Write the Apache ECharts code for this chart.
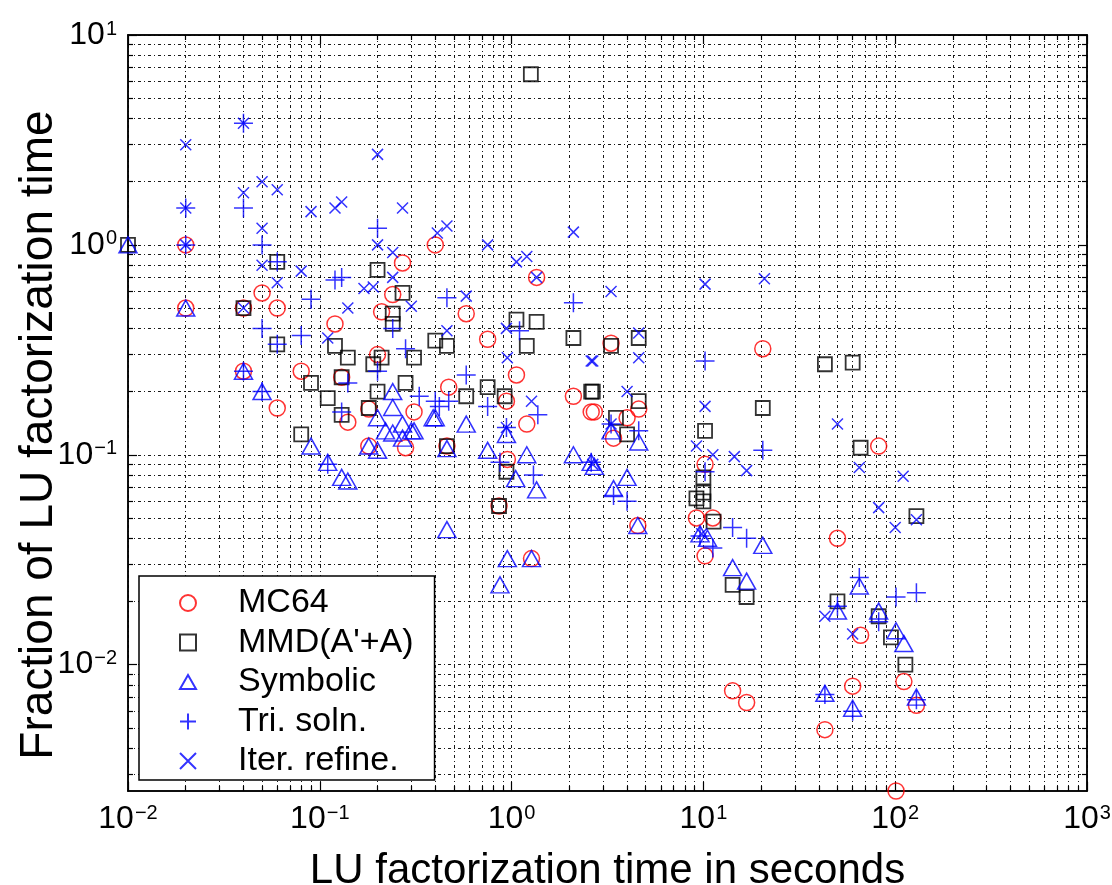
<!DOCTYPE html>
<html>
<head>
<meta charset="utf-8">
<script src="https://cdn.jsdelivr.net/npm/echarts@6/dist/echarts.min.js"></script>
<style>
  html, body { margin: 0; padding: 0; background: #fff; }
  #chart { width: 1112px; height: 885px; }
</style>
</head>
<body>
<div id="chart"></div>
<script>
// ---------------- data (x = LU time in s, y = fraction) ----------------
const seriesNames = ['MC64', "MMD(A'+A)", 'Symbolic', 'Tri. soln.', 'Iter. refine.'];

const mc64Points = [
  [0.02, 1.0], [0.02, 0.5], [0.04, 0.5], [0.04, 0.25], [0.05, 0.59], [0.06, 0.5], [0.06, 0.167],
  [0.12, 0.42], [0.08, 0.25], [0.14, 0.143], [0.13, 0.234], [0.2, 0.3], [0.27, 0.82], [0.24, 0.58],
  [0.21, 0.48], [0.4, 1.0], [0.18, 0.165], [0.31, 0.16], [0.18, 0.11], [0.28, 0.108], [0.46, 0.11],
  [1.35, 0.7], [0.58, 0.47], [0.75, 0.355], [3.3, 0.34], [1.06, 0.24], [0.47, 0.21], [0.94, 0.18],
  [1.2, 0.14], [2.1, 0.19], [2.6, 0.16], [2.7, 0.16], [4.0, 0.15], [4.6, 0.165], [3.4, 0.12],
  [10.2, 0.09], [20.4, 0.32], [82, 0.11], [50, 0.04], [11.2, 0.05], [9.2, 0.05], [10.2, 0.033],
  [66, 0.0138], [111, 0.0083], [129, 0.0064], [43, 0.0049], [60, 0.0079], [14.2, 0.0075],
  [16.8, 0.0066], [101, 0.0025], [0.95, 0.095], [0.86, 0.057], [1.27, 0.032], [4.55, 0.046]
];

const mmdPoints = [
  [0.01, 1.0], [0.04, 0.5], [0.06, 0.83], [0.06, 0.336], [0.12, 0.33], [0.14, 0.29], [0.09, 0.22],
  [0.11, 0.186], [0.13, 0.155], [0.08, 0.125], [0.13, 0.234], [0.21, 0.29], [0.19, 0.27], [0.27, 0.59],
  [0.24, 0.47], [0.24, 0.42], [0.2, 0.76], [0.31, 0.29], [0.4, 0.35], [0.46, 0.33], [0.2, 0.2],
  [0.28, 0.22], [0.18, 0.167], [0.46, 0.11], [1.26, 6.5], [1.06, 0.44], [1.35, 0.43], [1.2, 0.33],
  [2.1, 0.36], [3.3, 0.33], [4.6, 0.36], [0.58, 0.19], [0.75, 0.21], [0.92, 0.19], [2.6, 0.2],
  [2.65, 0.2], [3.5, 0.15], [4.6, 0.18], [4.0, 0.125], [10.2, 0.13], [43, 0.27], [60, 0.275],
  [20.4, 0.167], [66, 0.108], [0.94, 0.083], [0.86, 0.057], [10, 0.078], [10, 0.066], [9.2, 0.062],
  [10, 0.06], [11.3, 0.048], [14.2, 0.024], [16.8, 0.021], [50, 0.02], [82, 0.017], [95, 0.0135],
  [113, 0.01], [129, 0.051]
];

const symbolicPoints = [
  [0.01, 1.0], [0.02, 0.5], [0.04, 0.25], [0.05, 0.2], [0.09, 0.11], [0.11, 0.092], [0.14, 0.075],
  [0.13, 0.078], [0.24, 0.2], [0.24, 0.168], [0.39, 0.15], [0.2, 0.15], [0.22, 0.13], [0.27, 0.14],
  [0.31, 0.13], [0.24, 0.127], [0.18, 0.11], [0.2, 0.105], [0.27, 0.12], [0.4, 0.15], [0.58, 0.14],
  [0.94, 0.125], [0.75, 0.105], [1.2, 0.1], [2.1, 0.1], [4.0, 0.078], [3.4, 0.069], [2.6, 0.092],
  [2.7, 0.088], [1.05, 0.077], [1.35, 0.068], [0.46, 0.107], [3.3, 0.13], [4.6, 0.115], [0.46, 0.044],
  [0.95, 0.032], [1.27, 0.032], [0.87, 0.024], [4.55, 0.046], [9.6, 0.042], [10.5, 0.04], [20.4, 0.037],
  [14.2, 0.029], [16.8, 0.025], [65, 0.0237], [50, 0.018], [82, 0.018], [101, 0.0145], [111, 0.0126],
  [129, 0.007], [43, 0.0073], [60, 0.0062], [0.3, 0.13]
];

const triSolnPoints = [
  [0.02, 1.5], [0.02, 1.0], [0.04, 3.8], [0.04, 1.5], [0.04, 0.25], [0.05, 1.0], [0.05, 0.4],
  [0.05, 0.2], [0.06, 0.83], [0.06, 0.336], [0.12, 0.68], [0.13, 0.7], [0.09, 0.55], [0.08, 0.37],
  [0.13, 0.16], [0.14, 0.22], [0.11, 0.09], [0.2, 0.25], [0.2, 1.2], [0.24, 0.4], [0.28, 0.32],
  [0.46, 0.56], [0.33, 0.19], [0.42, 0.17], [2.1, 0.53], [1.1, 0.39], [10.2, 0.28], [0.58, 0.24],
  [0.4, 0.18], [0.47, 0.18], [0.75, 0.17], [1.37, 0.155], [0.94, 0.135], [3.3, 0.14], [4.6, 0.13],
  [2.6, 0.092], [0.87, 0.092], [1.3, 0.08], [3.4, 0.064], [10.2, 0.083], [20.4, 0.105], [4.0, 0.06],
  [9.6, 0.041], [11.2, 0.036], [14.2, 0.045], [16.8, 0.04], [65, 0.026], [101, 0.021], [129, 0.022],
  [50, 0.019], [82, 0.016], [129, 0.0068], [43, 0.0072], [60, 0.006]
];

const iterRefinePoints = [
  [0.02, 3.0], [0.02, 1.5], [0.02, 1.0], [0.04, 3.8], [0.04, 1.77], [0.04, 0.5], [0.05, 2.0],
  [0.05, 1.2], [0.05, 0.8], [0.06, 1.83], [0.06, 0.66], [0.08, 0.75], [0.14, 0.5], [0.11, 0.36],
  [0.17, 0.62], [0.19, 0.63], [0.2, 1.0], [0.24, 0.92], [0.24, 0.7], [0.3, 0.51], [0.41, 1.14],
  [0.46, 1.23], [0.09, 1.44], [0.12, 1.5], [0.13, 1.6], [0.2, 2.7], [0.27, 1.5], [0.75, 1.0],
  [1.06, 0.83], [1.2, 0.88], [2.1, 1.15], [1.35, 0.7], [0.58, 0.57], [3.3, 0.6], [10.2, 0.65],
  [0.94, 0.4], [0.46, 0.39], [4.6, 0.38], [4.6, 0.29], [2.6, 0.28], [2.65, 0.28], [0.95, 0.29],
  [1.27, 0.18], [0.94, 0.135], [3.3, 0.14], [4.0, 0.2], [10.2, 0.17], [9.2, 0.11], [11.2, 0.1],
  [14.5, 0.098], [16.8, 0.084], [2.65, 0.09], [20.8, 0.69], [50, 0.14], [65, 0.087], [110, 0.079],
  [82, 0.056], [129, 0.049], [100, 0.045], [43, 0.017], [60, 0.014], [9.8, 0.042]
];

// tick positions
const xMajorTicks = [0.01, 0.1, 1, 10, 100, 1000];
const yMajorTicks = [0.01, 0.1, 1, 10];
const xRange = [0.01, 1000];
const yRange = [0.0025, 10];
const xMinorTicks = [];
for (let k = -2; k <= 2; k++) for (let m = 2; m <= 9; m++) xMinorTicks.push(+(m * Math.pow(10, k)).toPrecision(3));
const yMinorTicks = [];
for (let k = -3; k <= 0; k++) for (let m = 2; m <= 9; m++) {
  const v = +(m * Math.pow(10, k)).toPrecision(3);
  if (v >= yRange[0] && v <= yRange[1]) yMinorTicks.push(v);
}

const xTitle = 'LU factorization time in seconds';
const yTitle = 'Fraction of LU factorization time';

// ---------------- chart ----------------
const FONT = '"Liberation Sans", Arial, Helvetica, sans-serif';
const gridLine = { show: true, lineStyle: { color: '#000', width: 1, type: [3, 3, 1, 3], opacity: 0.9 } };

function expLabel(v) {
  const e = Math.round(Math.log10(v));
  return '{b|10}{e|' + (e < 0 ? '\u2212' + (-e) : String(e)) + '}';
}
const richExp = {
  b: { fontSize: 32, lineHeight: 32, verticalAlign: 'bottom', fontFamily: FONT, color: '#000' },
  e: { fontSize: 20, lineHeight: 20, verticalAlign: 'top', padding: [0, 0, 23, 1], fontFamily: FONT, color: '#000' }
};

function logAxis(dim, position, tickValues, tickLen, labels, split, extra) {
  const isX = dim === 'x';
  const rng = isX ? xRange : yRange;
  const ax = {
    type: 'log', logBase: 10, position: position,
    min: rng[0], max: rng[1],
    axisLine: { show: true, onZero: false, lineStyle: { color: '#000', width: 1.5 } },
    axisTick: { show: true, inside: true, length: tickLen, customValues: tickValues,
                lineStyle: { color: '#000', width: 1.2 } },
    axisLabel: { show: false },
    splitLine: split ? gridLine : { show: false },
    minorTick: { show: false }, minorSplitLine: { show: false },
    silent: true
  };
  if (labels) {
    ax.axisLabel = {
      show: true, customValues: isX ? xMajorTicks : yMajorTicks,
      formatter: expLabel, rich: richExp, color: '#000',
      margin: isX ? 12 : 11
    };
  }
  return Object.assign(ax, extra || {});
}

const chart = echarts.init(document.getElementById('chart'), null, { renderer: 'canvas' });

const markerBase = { type: 'scatter', xAxisIndex: 0, yAxisIndex: 0, emphasis: { disabled: true }, z: 3 };
const SQUARE = 'path://M0,0L10,0L10,10L0,10Z';
const TRIANGLE = 'path://M5,0L10,8.66L0,8.66Z';
const PLUS = 'path://M0,10L20,10M10,0L10,20';
const CROSS = 'path://M0,0L10,10M10,0L0,10';

chart.setOption({
  backgroundColor: '#fff',
  animation: false,
  grid: { left: 128, right: 25, top: 35, bottom: 94, containLabel: false, outerBoundsMode: 'none' },
  xAxis: [
    logAxis('x', 'bottom', xMajorTicks, 9, true, true, {
      name: xTitle, nameLocation: 'middle', nameGap: 54,
      nameTextStyle: { fontSize: 42, color: '#000', fontFamily: FONT }
    }),
    logAxis('x', 'bottom', xMinorTicks, 5, false, true),
    logAxis('x', 'top', xMajorTicks, 9, false, false),
    logAxis('x', 'top', xMinorTicks, 5, false, false)
  ],
  yAxis: [
    logAxis('y', 'left', yMajorTicks, 9, true, true, {
      name: yTitle, nameLocation: 'middle', nameGap: 66, nameMoveOverlap: false,
      nameTextStyle: { fontSize: 46, color: '#000', fontFamily: FONT, padding: [0, 44, 0, 0] }
    }),
    logAxis('y', 'left', yMinorTicks, 5, false, true),
    logAxis('y', 'right', yMajorTicks, 9, false, false),
    logAxis('y', 'right', yMinorTicks, 5, false, false)
  ],
  legend: {
    orient: 'vertical', left: 139, top: 576,
    padding: [10, 21, 2, 40],
    itemWidth: 16, itemHeight: 16, itemGap: 5.5,
    backgroundColor: '#fff', borderColor: '#000', borderWidth: 1.5,
    textStyle: { fontSize: 34, lineHeight: 30, color: '#000', fontFamily: FONT, padding: [0, 0, 0, 37] },
    data: seriesNames, selectedMode: false, z: 10
  },
  series: [
    Object.assign({}, markerBase, { name: seriesNames[0], data: mc64Points, symbol: 'circle', symbolSize: 16,
      itemStyle: { color: 'rgba(0,0,0,0)', borderColor: '#ff0000', borderWidth: 1.5 } }),
    Object.assign({}, markerBase, { name: seriesNames[1], data: mmdPoints, symbol: SQUARE, symbolSize: 14,
      itemStyle: { color: 'rgba(0,0,0,0)', borderColor: '#000000', borderWidth: 1.8 } }),
    Object.assign({}, markerBase, { name: seriesNames[2], data: symbolicPoints, symbol: TRIANGLE, symbolSize: [18, 16],
      itemStyle: { color: 'rgba(0,0,0,0)', borderColor: '#0000ff', borderWidth: 1.5 } }),
    Object.assign({}, markerBase, { name: seriesNames[3], data: triSolnPoints, symbol: PLUS, symbolSize: 19,
      itemStyle: { color: 'rgba(0,0,0,0)', borderColor: '#0000ff', borderWidth: 1.5 } }),
    Object.assign({}, markerBase, { name: seriesNames[4], data: iterRefinePoints, symbol: CROSS, symbolSize: 11,
      itemStyle: { color: 'rgba(0,0,0,0)', borderColor: '#0000ff', borderWidth: 1.5 } })
  ]
});
</script>
</body>
</html>
